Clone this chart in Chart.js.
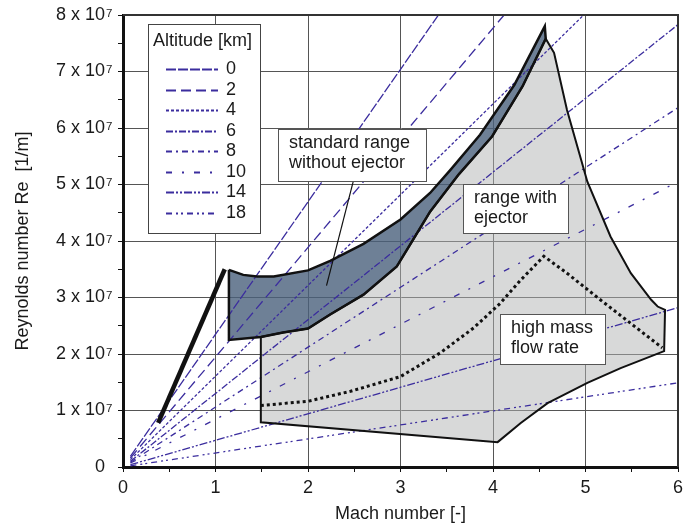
<!DOCTYPE html>
<html>
<head>
<meta charset="utf-8">
<script src="https://cdn.jsdelivr.net/npm/chart.js"></script>
<style>
  html, body { margin: 0; padding: 0; background: #fff; }
</style>
</head>
<body>
<canvas id="myChart" width="685" height="527"></canvas>
<script>
const RE = 1e7; // y values below are in units of 10^7 1/m

// altitude lines (Re grows with Mach), start and end points
const altitudes = ["0", "2", "4", "6", "8", "10", "14", "18"];
const lineStartMach = [0.08, 0.08, 0.08, 0.08, 0.08, 0.08, 0.08, 0.08];
const lineStartRe = [0.19, 0.16, 0.13, 0.10, 0.085, 0.07, 0.04, 0.02];
const lineEndMach = [3.41, 4.12, 4.98, 6, 6, 6, 6, 6];
const lineEndRe = [8, 8, 8, 7.83, 6.36, 5.05, 2.82, 1.49];
const dashes = [[10, 2], [10, 5], [3, 2], [7, 2, 2, 2], [6, 4, 2, 4], [6, 10, 2, 10], [8, 2, 2, 2, 2, 2], [6, 4, 2, 3, 2, 4]];

// standard range without ejector
const stdUpperMach = [1.145, 1.3, 1.45, 1.63, 2.0, 2.24, 2.6, 3.0, 3.32, 3.54, 3.86, 4.23, 4.56];
const stdUpperRe = [3.49, 3.40, 3.37, 3.37, 3.48, 3.65, 3.95, 4.38, 4.85, 5.26, 5.88, 6.76, 7.80];
const stdLowerMach = [1.145, 1.49, 1.73, 2.0, 2.24, 2.6, 2.96, 3.12, 3.32, 3.63, 3.99, 4.32, 4.57];
const stdLowerRe = [2.25, 2.30, 2.38, 2.45, 2.70, 3.05, 3.55, 3.98, 4.52, 5.18, 5.85, 6.74, 7.58];

// range with ejector, outer boundary (left edge, bottom, right side up to the peak)
const ejMach = [1.49, 1.49, 4.05, 4.30, 4.59, 5.02, 5.38, 5.85, 5.86, 5.78, 5.71, 5.49, 5.27, 5.02, 4.80, 4.66, 4.57];
const ejRe = [2.30, 0.79, 0.44, 0.78, 1.13, 1.49, 1.75, 2.05, 2.78, 2.84, 2.96, 3.43, 4.08, 5.05, 6.32, 7.33, 7.58];

// high mass flow rate (dotted)
const hmMach = [1.49, 1.99, 2.46, 3.0, 3.43, 3.79, 4.08, 4.30, 4.55, 4.80, 5.16, 5.53, 5.83];
const hmRe = [1.09, 1.16, 1.34, 1.60, 2.02, 2.46, 2.90, 3.31, 3.73, 3.43, 2.96, 2.49, 2.11];

// thick line on the left and pointer from the label
const leftMach = [0.38, 1.10];
const leftRe = [0.78, 3.50];
const pointerMach = [2.49, 2.20];
const pointerRe = [5.06, 3.21];

const xTicks = ["0", "1", "2", "3", "4", "5", "6"];

const FONT = '"Liberation Sans", Arial, sans-serif';
const BLUE = "#3b2d9e";

const pts = (xs, ys) => xs.map((x, i) => ({ x: x, y: ys[i] * RE }));

// polygons
const stdPoly = pts(stdUpperMach, stdUpperRe)
  .concat(pts(stdLowerMach, stdLowerRe).reverse());
stdPoly.push(stdPoly[0]);
const lowerPart = stdLowerMach.map((m, i) => [m, stdLowerRe[i]]).filter(p => p[0] >= 1.49).reverse();
const ejPoly = pts(ejMach, ejRe).concat(lowerPart.map(p => ({ x: p[0], y: p[1] * RE })));

const datasets = [];

// fills
datasets.push({ data: ejPoly, fill: "shape", backgroundColor: "rgba(178,180,180,0.5)", borderWidth: 0, order: 20 });
datasets.push({ data: stdPoly, fill: "shape", backgroundColor: "rgba(74,96,124,0.8)", borderWidth: 0, order: 19 });

// altitude lines
altitudes.forEach((alt, i) => {
  datasets.push({
    label: alt,
    altitude: true,
    data: [
      { x: lineStartMach[i], y: lineStartRe[i] * RE },
      { x: lineEndMach[i], y: lineEndRe[i] * RE },
    ],
    borderColor: BLUE,
    borderWidth: 1.3,
    borderDash: dashes[i],
    fill: false,
    order: 10,
  });
});

// outlines
datasets.push({ data: ejPoly, borderColor: "#111", borderWidth: 2, fill: false, order: 4 });
datasets.push({ data: stdPoly, borderColor: "#111", borderWidth: 2.5, fill: false, order: 3 });
datasets.push({ data: pts(hmMach, hmRe), borderColor: "#111", borderWidth: 3, borderDash: [3, 3], fill: false, order: 2 });
datasets.push({ data: pts(leftMach, leftRe), borderColor: "#111", borderWidth: 4.5, fill: false, order: 1 });
datasets.push({ data: pts(pointerMach, pointerRe), borderColor: "#111", borderWidth: 1.2, fill: false, order: 0 });

// text boxes (Mach / Re in 10^7)
const notes = [
  { x0: 1.68, x1: 3.28, y0: 5.99, y1: 5.06, text: ["standard range", "without ejector"] },
  { x0: 3.68, x1: 4.81, y0: 5.01, y1: 4.15, text: ["range with", "ejector"] },
  { x0: 4.08, x1: 5.21, y0: 2.71, y1: 1.83, text: ["high mass", "flow rate"] },
];

const TICK_LEN = 5, TICK_PAD = 13;

const extras = {
  id: "extras",
  afterDatasetsDraw(chart) {
    const { ctx, chartArea: a, scales } = chart;
    const x = scales.x, y = scales.y;
    ctx.save();

    // frame top / right
    ctx.strokeStyle = "#333";
    ctx.lineWidth = 2;
    ctx.beginPath();
    ctx.moveTo(a.left, a.top);
    ctx.lineTo(a.right, a.top);
    ctx.lineTo(a.right, a.bottom);
    ctx.stroke();

    ctx.font = "18px " + FONT;
    ctx.textBaseline = "middle";
    ctx.textAlign = "left";

    // labelled boxes
    notes.forEach(n => {
      const l = Math.round(x.getPixelForValue(n.x0)), r = Math.round(x.getPixelForValue(n.x1));
      const t = Math.round(y.getPixelForValue(n.y0 * RE)), b = Math.round(y.getPixelForValue(n.y1 * RE));
      ctx.fillStyle = "#fff";
      ctx.fillRect(l, t, r - l, b - t);
      ctx.strokeStyle = "#555";
      ctx.lineWidth = 1;
      ctx.strokeRect(l + 0.5, t + 0.5, r - l, b - t);
      ctx.fillStyle = "#1a1a1a";
      n.text.forEach((s, i) => ctx.fillText(s, l + 11, t + 14 + i * 20.5));
    });

    // legend box
    const lx = a.left + 25, ly = a.top + 9, lw = 112, lh = 209;
    ctx.fillStyle = "#fff";
    ctx.fillRect(lx, ly, lw, lh);
    ctx.strokeStyle = "#444";
    ctx.lineWidth = 1;
    ctx.strokeRect(lx + 0.5, ly + 0.5, lw, lh);
    ctx.fillStyle = "#1a1a1a";
    ctx.fillText("Altitude [km]", lx + 5, ly + 17);
    const items = chart.data.datasets.filter(d => d.altitude);
    items.forEach((d, i) => {
      const yy = Math.round(ly + 45 + i * 20.5) + 0.5;
      ctx.strokeStyle = d.borderColor;
      ctx.lineWidth = 2;
      ctx.setLineDash(d.borderDash);
      ctx.beginPath();
      ctx.moveTo(lx + 18, yy);
      ctx.lineTo(lx + 70, yy);
      ctx.stroke();
      ctx.setLineDash([]);
      ctx.fillText(d.label, lx + 78, yy);
    });

    // exponent of the y tick labels
    ctx.font = "11.5px " + FONT;
    ctx.textBaseline = "alphabetic";
    y.ticks.forEach(t => {
      if (t.value > 0 && t.value % RE === 0) {
        const py = y.getPixelForValue(t.value);
        ctx.fillText("7", a.left - TICK_LEN - TICK_PAD + 1, py + 1.5);
      }
    });
    ctx.restore();
  },
};

Chart.defaults.font.family = FONT;
Chart.defaults.font.size = 18;
Chart.defaults.color = "#1a1a1a";

new Chart(document.getElementById("myChart"), {
  type: "line",
  data: { datasets: datasets },
  options: {
    responsive: false,
    animation: false,
    layout: { padding: { left: 0, right: 7, top: 15, bottom: 0 } },
    elements: { point: { radius: 0 }, line: { tension: 0 } },
    plugins: { legend: { display: false }, tooltip: { enabled: false } },
    scales: {
      x: {
        type: "linear",
        min: 0,
        max: 6,
        afterFit: s => { s.height = 60; s.paddingLeft = 0; s.paddingRight = 0; },
        ticks: {
          stepSize: 0.5,
          autoSkip: false,
          maxRotation: 0,
          padding: 5,
          callback: v => (Number.isInteger(v) ? xTicks[v] : ""),
        },
        grid: {
          color: c => (Number.isInteger(c.tick.value) ? "#555" : "rgba(0,0,0,0)"),
          tickColor: "#111",
          tickLength: TICK_LEN,
          lineWidth: 1,
        },
        border: { color: "#111", width: 3 },
        title: { display: true, text: "Mach number [-]", font: { size: 18 }, padding: { top: 0, bottom: 2 } },
      },
      y: {
        min: 0,
        max: 8 * RE,
        afterFit: s => { s.width = 123; s.paddingTop = 0; s.paddingBottom = 0; },
        ticks: {
          stepSize: 0.5 * RE,
          autoSkip: false,
          padding: TICK_PAD,
          callback: v => (v % RE === 0 ? (v === 0 ? "0" : v / RE + " x 10") : ""),
        },
        grid: {
          color: c => (c.tick.value % RE === 0 ? "#555" : "rgba(0,0,0,0)"),
          tickColor: "#111",
          tickLength: TICK_LEN,
          lineWidth: 1,
        },
        border: { color: "#111", width: 3 },
        title: { display: true, text: "Reynolds number Re  [1/m]", font: { size: 18 }, padding: { top: 12, bottom: 0 } },
      },
    },
  },
  plugins: [extras],
});
</script>
</body>
</html>
